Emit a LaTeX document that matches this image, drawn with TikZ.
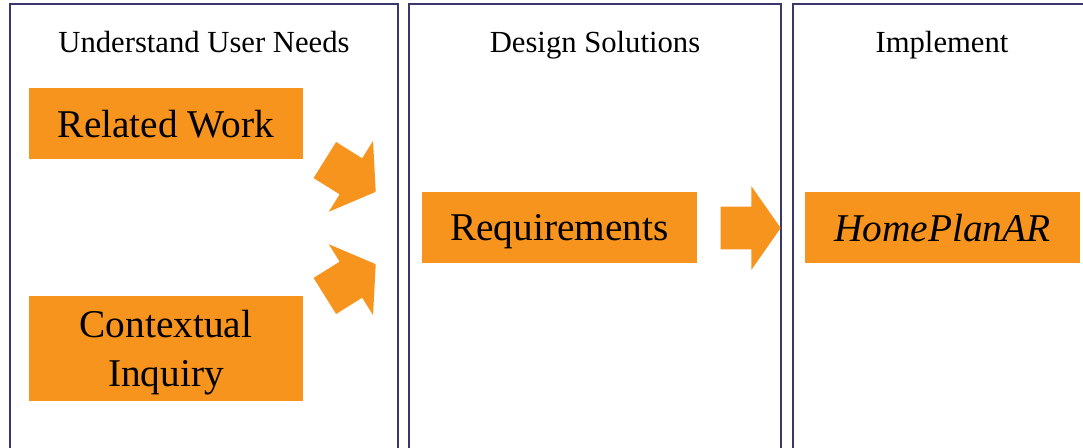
\documentclass[tikz,border=0pt]{standalone}
\usepackage{fontspec}
\setmainfont{Liberation Serif}
\usetikzlibrary{shapes.arrows}
\definecolor{boxorange}{RGB}{247,148,29}
\definecolor{panelblue}{RGB}{58,55,110}

\begin{document}
\begin{tikzpicture}[x=7.5pt,y=7.5pt,
  panel/.style={draw=panelblue,line width=0.9pt},
  heading/.style={anchor=base,font=\fontsize{23}{28}\selectfont},
  stage/.style={fill=boxorange,inner sep=0pt,minimum width=206pt,text depth=0pt,align=center,
    font=\fontsize{29.5}{37}\selectfont},
  bigarrow/.style={single arrow,fill=boxorange,inner sep=0pt,inner ysep=15.75pt,minimum height=45pt,
    single arrow head extend=15.4pt,single arrow tip angle=110,anchor=tip}]
\useasboundingbox (0,0) rectangle (108.3,-44.7);
\clip (0,0) rectangle (108.3,-44.7);
\draw [panel] (1,-0.4) rectangle (39.8,-46);
\draw [panel] (40.9,-0.4) rectangle (78.1,-46);
\draw [panel] (79.3,-0.4) rectangle (109.1,-46);
\node [heading] (needs) at (20.4,-5.2) {Understand User Needs};
\node [heading] (design) at (59.5,-5.2) {Design Solutions};
\node [heading] (impl) at (94.2,-5.2) {Implement};
\node [stage,minimum height=53.25pt] (work) at (16.6,-12.35) {Related Work};
\node [stage,minimum height=78.75pt] (inquiry) at (16.6,-34.85) {Contextual\\Inquiry};
\node [stage,minimum height=53.25pt] (req) at (55.95,-22.75) {Requirements};
\node [stage,minimum height=53.25pt] (app) at (94.25,-22.75) {\textit{HomePlanAR}};
\node [bigarrow,rotate=-32] (a1) at (37.6,-19.2) {};
\node [bigarrow,rotate=32] (a2) at (37.6,-26.4) {};
\node [bigarrow] (a3) at (78.1,-22.8) {};
\end{tikzpicture}
\end{document}
